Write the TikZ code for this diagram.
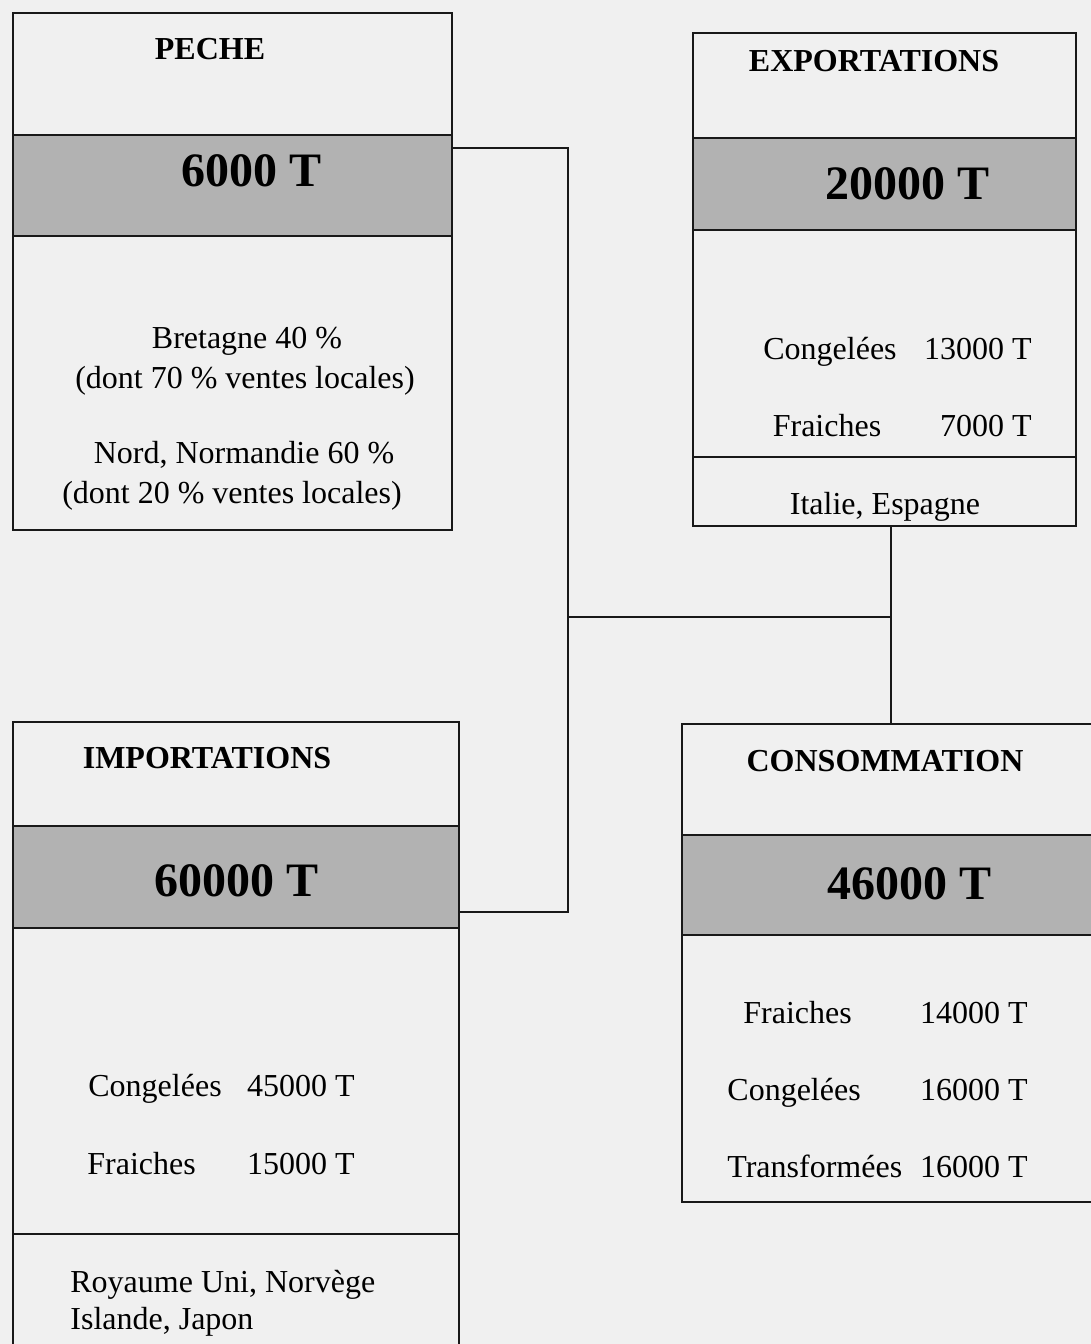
\documentclass[tikz,border=0pt]{standalone}
\usepackage{fontspec}
\setmainfont{Liberation Serif}
\usetikzlibrary{fit}

\begin{document}
\begin{tikzpicture}[
    x=0.5pt, y=-0.5pt,
    panel/.style={draw=black!90, line width=1.2pt, inner sep=0pt},
    band/.style={panel, fill=black!30},
    heading/.style={font=\fontsize{16}{19}\selectfont\bfseries, inner sep=0pt,
                    text height=11pt, text depth=0pt},
    amount/.style={font=\fontsize{24}{28}\selectfont\bfseries, inner sep=0pt,
                   text height=16pt, text depth=0pt},
    txt/.style={font=\fontsize{16}{19}\selectfont, inner sep=0pt,
                text height=11pt, text depth=0pt},
    link/.style={black!90, line width=1pt}
]
\fill[black!6] (0,0) rectangle (1091,1344);
\useasboundingbox (0,0) rectangle (1091,1344);
\clip (0,0) rectangle (1091,1344);

% PECHE
\node[panel, fit={(13,13) (452,135)}] (pecheHead) {};
\node[band, fit={(13,135) (452,236)}] (pecheBand) {};
\node[panel, fit={(13,236) (452,530)}] (pecheBody) {};
\node[heading] (pecheTitle) at (210,48) {PECHE};
\node[amount] (pecheAmount) at (252,170) {6000 T};
\node[txt] (pecheB) at (247,337) {Bretagne 40 \%};
\node[txt] (pecheBdont) at (245,377) {(dont 70 \% ventes locales)};
\node[txt] (pecheN) at (244,452) {Nord, Normandie 60 \%};
\node[txt] (pecheNdont) at (232,492) {(dont 20 \% ventes locales)};

% EXPORTATIONS
\node[panel, fit={(693,33) (1076,138)}] (exportHead) {};
\node[band, fit={(693,138) (1076,230)}] (exportBand) {};
\node[panel, fit={(693,230) (1076,457)}] (exportBody) {};
\node[panel, fit={(693,457) (1076,526)}] (exportFoot) {};
\node[heading] (exportTitle) at (874,60) {EXPORTATIONS};
\node[amount] (exportAmount) at (907,183) {20000 T};
\node[txt] (exportCong) at (830,348) {Congelées};
\node[txt, anchor=east] (exportCongT) at (1032,348) {13000 T};
\node[txt] (exportFr) at (827,425) {Fraiches};
\node[txt, anchor=east] (exportFrT) at (1032,425) {7000 T};
\node[txt] (exportDest) at (885,503) {Italie, Espagne};

% IMPORTATIONS
\node[panel, fit={(13,722) (459,826)}] (importHead) {};
\node[band, fit={(13,826) (459,928)}] (importBand) {};
\node[panel, fit={(13,928) (459,1234)}] (importBody) {};
\node[panel, fit={(13,1234) (459,1370)}] (importFoot) {};
\node[heading] (importTitle) at (207,757) {IMPORTATIONS};
\node[amount] (importAmount) at (237,880) {60000 T};
\node[txt, anchor=west] (importCong) at (88,1085) {Congelées};
\node[txt, anchor=east] (importCongT) at (355,1085) {45000 T};
\node[txt, anchor=west] (importFr) at (87,1163) {Fraiches};
\node[txt, anchor=east] (importFrT) at (355,1163) {15000 T};
\node[txt, anchor=west] (importSrcA) at (70,1281) {Royaume Uni, Norvège};
\node[txt, anchor=west] (importSrcB) at (70,1318) {Islande, Japon};

% CONSOMMATION
\node[panel, fit={(682,724) (1100,835)}] (consoHead) {};
\node[band, fit={(682,835) (1100,935)}] (consoBand) {};
\node[panel, fit={(682,935) (1100,1202)}] (consoBody) {};
\node[heading] (consoTitle) at (885,760) {CONSOMMATION};
\node[amount] (consoAmount) at (909,883) {46000 T};
\node[txt, anchor=west] (consoFr) at (743,1012) {Fraiches};
\node[txt, anchor=east] (consoFrT) at (1028,1012) {14000 T};
\node[txt, anchor=west] (consoCong) at (727,1089) {Congelées};
\node[txt, anchor=east] (consoCongT) at (1028,1089) {16000 T};
\node[txt, anchor=west] (consoTr) at (727,1166) {Transformées};
\node[txt, anchor=east] (consoTrT) at (1028,1166) {16000 T};

% liaisons
\coordinate (jtop) at (568,148);
\coordinate (jmid) at (568,617);
\coordinate (jbot) at (568,912);
\draw[link] (pecheBand.east |- jtop) -- (jtop) -- (jbot) -- (importBand.east |- jbot);
\draw[link] (exportFoot.south -| consoHead.north) -- (consoHead.north);
\draw[link] (jmid) -- (jmid -| consoHead.north);
\end{tikzpicture}
\end{document}
